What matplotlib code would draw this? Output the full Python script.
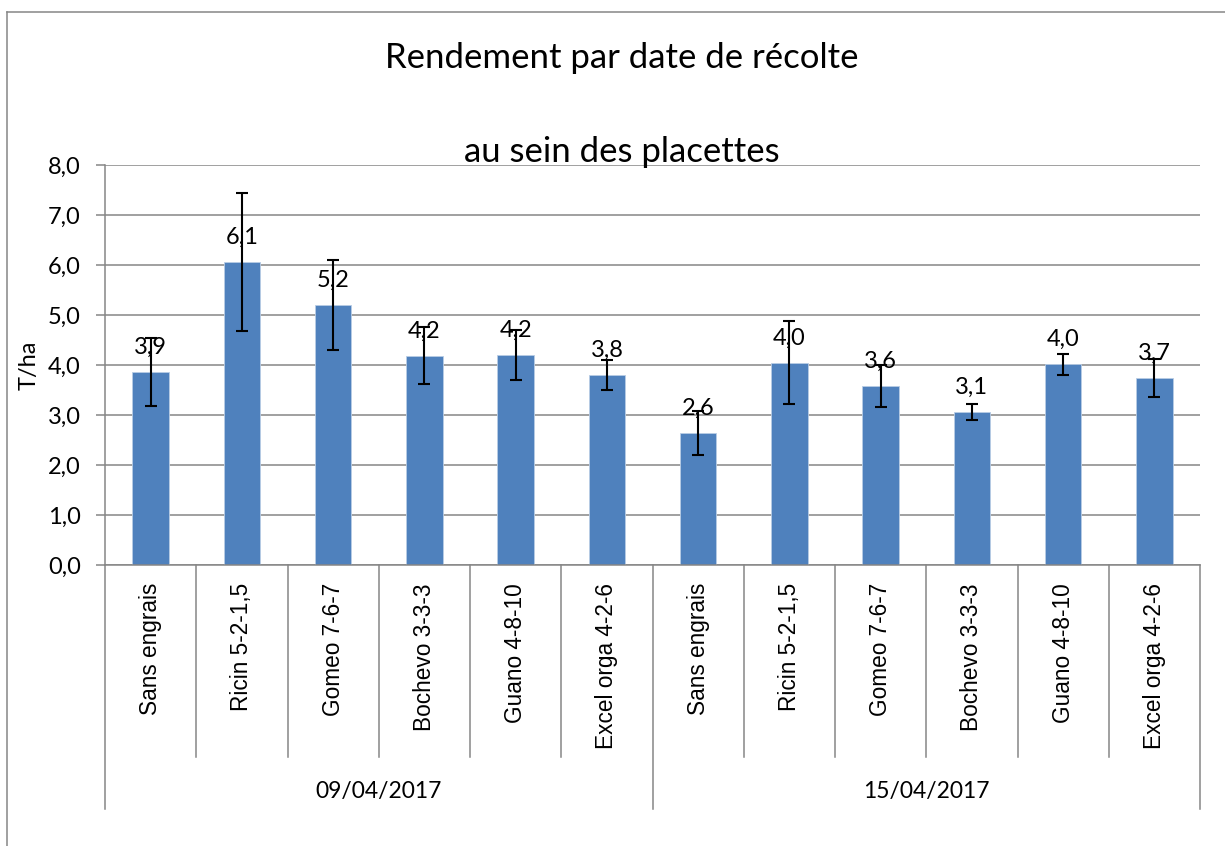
import numpy as np
import matplotlib as mpl
from matplotlib import pyplot as plt
from matplotlib.lines import Line2D

# data
dates = ["09/04/2017", "15/04/2017"]
treatments = ["Sans engrais", "Ricin 5-2-1,5", "Gomeo 7-6-7",
              "Bochevo 3-3-3", "Guano 4-8-10", "Excel orga 4-2-6"]
yield_d1 = [3.86, 6.06, 5.20, 4.18, 4.20, 3.79]
yield_d2 = [2.64, 4.04, 3.58, 3.06, 4.01, 3.74]
err_d1 = [0.68, 1.38, 0.90, 0.57, 0.50, 0.30]
err_d2 = [0.43, 0.83, 0.42, 0.16, 0.20, 0.38]
y_ticks = [0, 1, 2, 3, 4, 5, 6, 7, 8]

values = yield_d1 + yield_d2
errors = err_d1 + err_d2
labels = treatments + treatments

mpl.rcParams.update({"font.family": "Lato"})
grey = "#868686"

fig = plt.figure(figsize=(12.25, 8.46), dpi=100)
ax = fig.add_axes([105 / 1225, 1 - 565 / 846, 1095 / 1225, 400 / 846])

x = np.arange(len(values))
ax.set_axisbelow(True)
ax.yaxis.grid(True, color=grey, linewidth=1.1)
ax.bar(x, values, width=0.4, color="#4F81BD", edgecolor="#B9CDE5",
       linewidth=0.6, zorder=2)
ax.errorbar(x, values, yerr=errors, fmt="none", ecolor="black",
            elinewidth=1.5, capsize=4.5, capthick=1.5, zorder=3)
for xi, v in zip(x, values):
    ax.annotate(("%.1f" % v).replace(".", ","), (xi, v), xytext=(0, 18),
                textcoords="offset points", ha="center", va="center",
                fontsize=17, zorder=4)

ax.set_xlim(-0.5, len(values) - 0.5)
ax.set_ylim(0, 8)
ax.set_yticks(y_ticks)
ax.set_yticklabels([("%.1f" % t).replace(".", ",") for t in y_ticks],
                   fontsize=17)
ax.tick_params(axis="y", length=6.5, width=1.1, color=grey, pad=11)
ax.set_xticks([])
for s in ["top", "right"]:
    ax.spines[s].set_visible(False)
for s in ["left", "bottom"]:
    ax.spines[s].set_color(grey)
    ax.spines[s].set_linewidth(1.1)
ax.set_ylabel("T/ha", fontsize=17, labelpad=0)
ax.yaxis.set_label_coords(-(105 - 40) / 1095, 0.5)

# two-level category axis
trans = ax.get_xaxis_transform()
for i, lab in enumerate(labels):
    ax.text(i, -0.045, lab, transform=trans, rotation=90, ha="center",
            va="top", fontsize=16.3, family="Liberation Sans")
n = len(treatments)
for k in range(len(values) + 1):
    depth = -0.61 if k % n == 0 else -0.48
    ax.add_line(Line2D([k - 0.5, k - 0.5], [0, depth], transform=trans,
                       color=grey, linewidth=1.1, clip_on=False))
for j, d in enumerate(dates):
    ax.text(j * n + (n - 1) / 2, -0.567, d, transform=trans, ha="center",
            va="center", fontsize=16.5)

fig.text(622 / 1225, 1 - 58 / 846, "Rendement par date de récolte",
         ha="center", va="center", fontsize=25)
fig.text(622 / 1225, 1 - 152 / 846, "au sein des placettes",
         ha="center", va="center", fontsize=25)

# chart border
fig.add_artist(Line2D([7 / 1225, 7 / 1225], [0, 1 - 12 / 846], color=grey,
                      linewidth=1.1))
fig.add_artist(Line2D([7 / 1225, 1], [1 - 12 / 846, 1 - 12 / 846],
                      color=grey, linewidth=1.1))

plt.savefig("out.png", dpi=100)
